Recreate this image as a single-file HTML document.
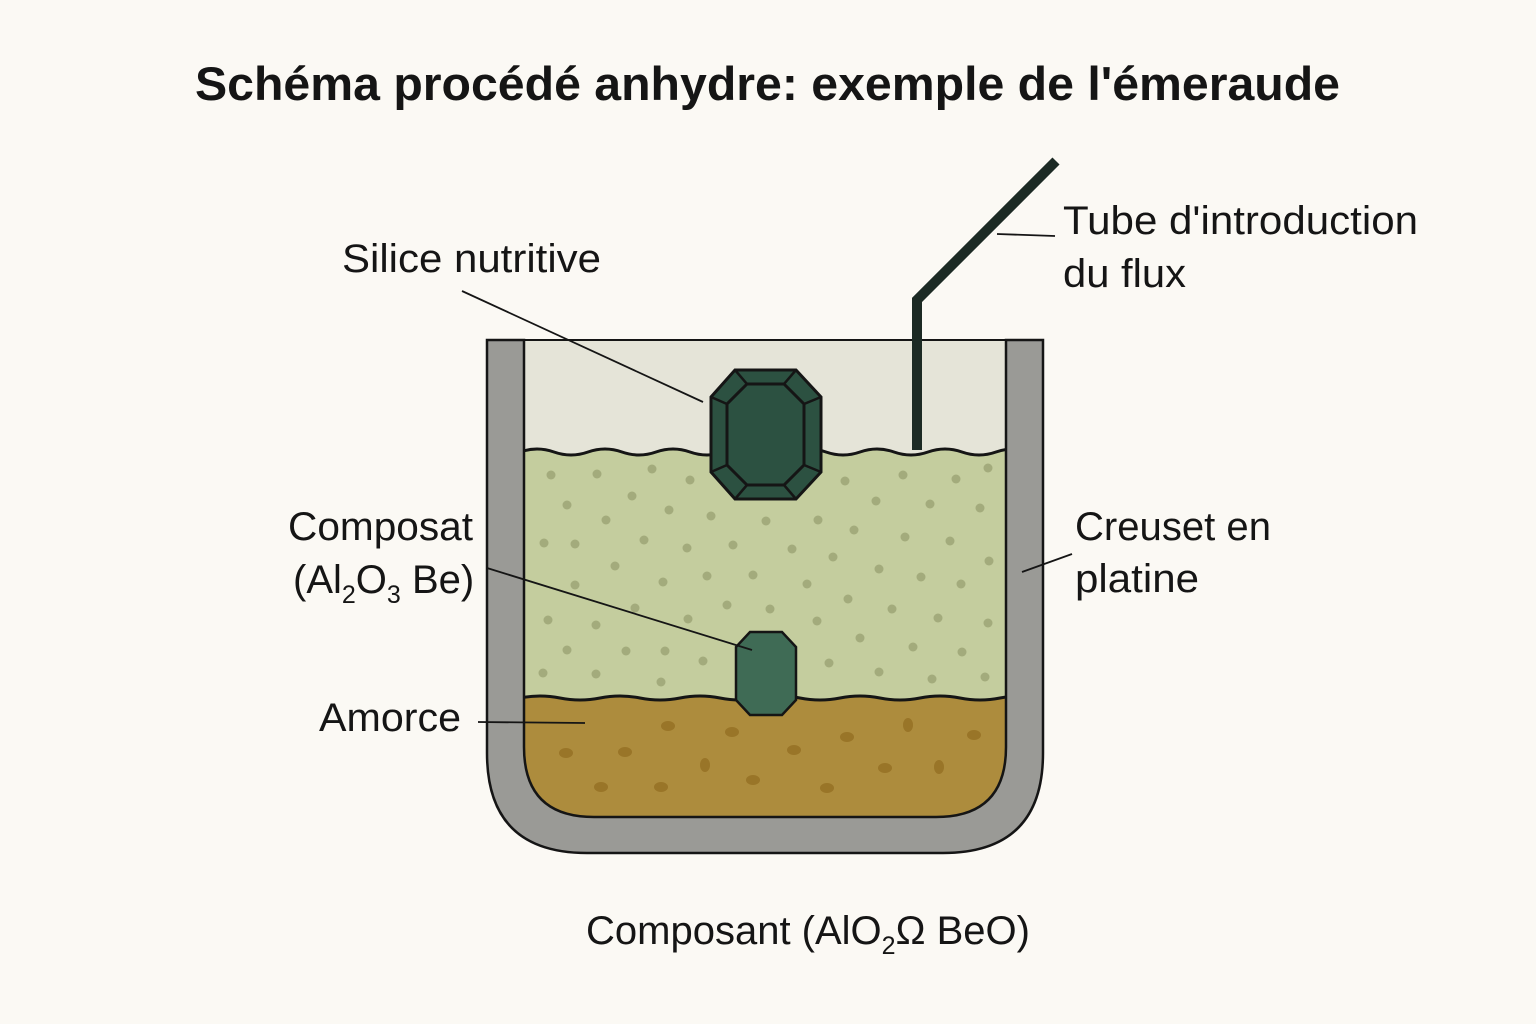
<!DOCTYPE html>
<html><head><meta charset="utf-8"><style>
html,body{margin:0;padding:0;background:#fbf9f4}
svg{display:block}
text{font-family:"Liberation Sans",sans-serif;fill:#151515}
</style></head><body>
<svg width="1536" height="1024" viewBox="0 0 1536 1024" xmlns="http://www.w3.org/2000/svg">
<rect width="1536" height="1024" fill="#fbf9f4"/>
<text x="195" y="100" font-size="47" font-weight="bold" textLength="1145" lengthAdjust="spacingAndGlyphs">Schéma procédé anhydre: exemple de l'émeraude</text>
<defs>
<clipPath id="inner"><path d="M524,340 H1006 V747 Q1006,817 936,817 H594 Q524,817 524,747 Z"/></clipPath>
</defs>
<g clip-path="url(#inner)">
<rect x="520" y="338" width="490" height="482" fill="#e5e4d8"/>
<path d="M520,452 Q537,446 554,452 T588,452 T622,452 T656,452 T690,452 T724,452 T758,452 T792,452 T826,452 T860,452 T894,452 T928,452 T962,452 T996,452 T1030,452 V820 H520 Z" fill="#c4cd9e" stroke="#151515" stroke-width="3"/>
<g fill="#a3ab7c">
<circle cx="551" cy="475" r="4.5"/><circle cx="597" cy="474" r="4.5"/><circle cx="652" cy="469" r="4.5"/><circle cx="690" cy="480" r="4.5"/><circle cx="845" cy="481" r="4.5"/><circle cx="903" cy="475" r="4.5"/><circle cx="956" cy="479" r="4.5"/><circle cx="988" cy="468" r="4.5"/><circle cx="567" cy="505" r="4.5"/><circle cx="632" cy="496" r="4.5"/><circle cx="669" cy="510" r="4.5"/><circle cx="711" cy="516" r="4.5"/><circle cx="606" cy="520" r="4.5"/><circle cx="766" cy="521" r="4.5"/><circle cx="818" cy="520" r="4.5"/><circle cx="876" cy="501" r="4.5"/><circle cx="930" cy="504" r="4.5"/><circle cx="980" cy="508" r="4.5"/><circle cx="854" cy="530" r="4.5"/><circle cx="544" cy="543" r="4.5"/><circle cx="575" cy="544" r="4.5"/><circle cx="644" cy="540" r="4.5"/><circle cx="687" cy="548" r="4.5"/><circle cx="733" cy="545" r="4.5"/><circle cx="792" cy="549" r="4.5"/><circle cx="833" cy="557" r="4.5"/><circle cx="905" cy="537" r="4.5"/><circle cx="950" cy="541" r="4.5"/><circle cx="989" cy="561" r="4.5"/><circle cx="615" cy="566" r="4.5"/><circle cx="575" cy="585" r="4.5"/><circle cx="663" cy="582" r="4.5"/><circle cx="707" cy="576" r="4.5"/><circle cx="753" cy="575" r="4.5"/><circle cx="807" cy="584" r="4.5"/><circle cx="879" cy="569" r="4.5"/><circle cx="921" cy="577" r="4.5"/><circle cx="961" cy="584" r="4.5"/><circle cx="848" cy="599" r="4.5"/><circle cx="635" cy="608" r="4.5"/><circle cx="727" cy="605" r="4.5"/><circle cx="770" cy="609" r="4.5"/><circle cx="548" cy="620" r="4.5"/><circle cx="596" cy="625" r="4.5"/><circle cx="688" cy="619" r="4.5"/><circle cx="817" cy="621" r="4.5"/><circle cx="892" cy="609" r="4.5"/><circle cx="938" cy="618" r="4.5"/><circle cx="988" cy="623" r="4.5"/><circle cx="860" cy="638" r="4.5"/><circle cx="567" cy="650" r="4.5"/><circle cx="626" cy="651" r="4.5"/><circle cx="665" cy="651" r="4.5"/><circle cx="703" cy="661" r="4.5"/><circle cx="829" cy="663" r="4.5"/><circle cx="913" cy="647" r="4.5"/><circle cx="962" cy="652" r="4.5"/><circle cx="543" cy="673" r="4.5"/><circle cx="596" cy="674" r="4.5"/><circle cx="661" cy="682" r="4.5"/><circle cx="879" cy="672" r="4.5"/><circle cx="932" cy="679" r="4.5"/><circle cx="985" cy="677" r="4.5"/>
</g>
<path d="M520,698 Q540,694 560,698 T600,698 T640,698 T680,698 T720,698 T760,698 T800,698 T840,698 T880,698 T920,698 T960,698 T1000,698 T1040,698 V820 H520 Z" fill="#ad8c3d" stroke="#151515" stroke-width="3"/>
<g fill="#997528">
<ellipse cx="668" cy="726" rx="7" ry="5"/><ellipse cx="732" cy="732" rx="7" ry="5"/><ellipse cx="847" cy="737" rx="7" ry="5"/><ellipse cx="908" cy="725" rx="5" ry="7"/><ellipse cx="974" cy="735" rx="7" ry="5"/><ellipse cx="566" cy="753" rx="7" ry="5"/><ellipse cx="625" cy="752" rx="7" ry="5"/><ellipse cx="794" cy="750" rx="7" ry="5"/><ellipse cx="705" cy="765" rx="5" ry="7"/><ellipse cx="885" cy="768" rx="7" ry="5"/><ellipse cx="939" cy="767" rx="5" ry="7"/><ellipse cx="753" cy="780" rx="7" ry="5"/><ellipse cx="601" cy="787" rx="7" ry="5"/><ellipse cx="661" cy="787" rx="7" ry="5"/><ellipse cx="827" cy="788" rx="7" ry="5"/>
</g>
</g>
<line x1="524" y1="340" x2="1006" y2="340" stroke="#151515" stroke-width="2"/>
<path d="M487,340 V753 Q487,853 587,853 H943 Q1043,853 1043,753 V340 H1006 V747 Q1006,817 936,817 H594 Q524,817 524,747 V340 Z" fill="#9a9a96" stroke="#151515" stroke-width="2.5"/>
<polyline points="917,450 917,300 1056,161" fill="none" stroke="#1c2a24" stroke-width="10" stroke-linejoin="miter"/>
<polygon points="735,370 796,370 821,397 821,472 796,499 735,499 711,472 711,397" fill="#2c5141" stroke="#151515" stroke-width="3"/>
<polygon points="747,384 784,384 804,404 804,465 784,485 747,485 727,465 727,404" fill="#2c5141" stroke="#151515" stroke-width="3"/>
<g stroke="#151515" stroke-width="2.5"><line x1="735" y1="370" x2="747" y2="384"/><line x1="796" y1="370" x2="784" y2="384"/><line x1="821" y1="397" x2="804" y2="404"/><line x1="821" y1="472" x2="804" y2="465"/><line x1="796" y1="499" x2="784" y2="485"/><line x1="735" y1="499" x2="747" y2="485"/><line x1="711" y1="472" x2="727" y2="465"/><line x1="711" y1="397" x2="727" y2="404"/></g>
<polygon points="750,632 782,632 796,647 796,700 782,715 750,715 736,700 736,647" fill="#3f6b55" stroke="#151515" stroke-width="2.5"/>
<g stroke="#151515" stroke-width="1.8">
<line x1="462" y1="291" x2="703" y2="402"/>
<line x1="997" y1="234" x2="1055" y2="236"/>
<line x1="487" y1="568" x2="752" y2="650"/>
<line x1="478" y1="722" x2="585" y2="723"/>
<line x1="1022" y1="572" x2="1072" y2="554"/>
</g>
<g font-size="40">
<text x="342" y="272" textLength="259" lengthAdjust="spacingAndGlyphs">Silice nutritive</text>
<text x="1063" y="234" textLength="355" lengthAdjust="spacingAndGlyphs">Tube d'introduction</text>
<text x="1063" y="287" textLength="123" lengthAdjust="spacingAndGlyphs">du flux</text>
<text x="288" y="540" textLength="185" lengthAdjust="spacingAndGlyphs">Composat</text>
<text x="293" y="593">(Al<tspan font-size="25" dy="10">2</tspan><tspan dy="-10">O</tspan><tspan font-size="25" dy="10">3</tspan><tspan dy="-10"> Be)</tspan></text>
<text x="319" y="731" textLength="142" lengthAdjust="spacingAndGlyphs">Amorce</text>
<text x="1075" y="540" textLength="196" lengthAdjust="spacingAndGlyphs">Creuset en</text>
<text x="1075" y="592" textLength="124" lengthAdjust="spacingAndGlyphs">platine</text>
<text x="586" y="944">Composant (AlO<tspan font-size="25" dy="10">2</tspan><tspan dy="-10">Ω BeO)</tspan></text>
</g>
</svg>
</body></html>
